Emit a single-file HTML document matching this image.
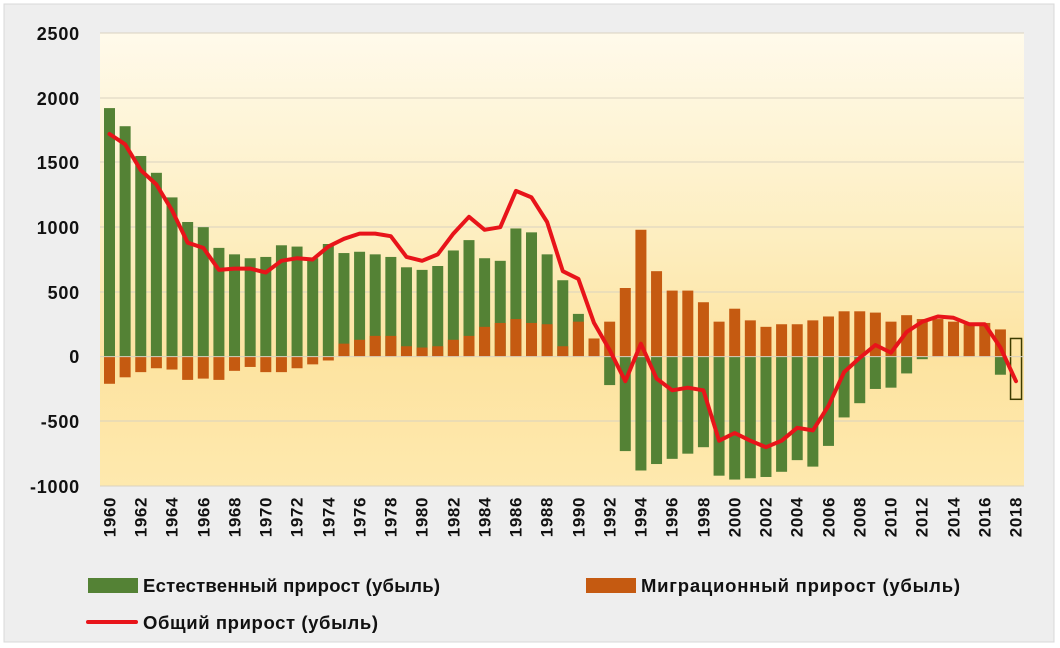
<!DOCTYPE html>
<html><head><meta charset="utf-8"><style>
body{margin:0;background:#fff;}
svg{display:block;font-family:"Liberation Sans",sans-serif;}
</style></head><body>
<svg id="c" width="1060" height="648" viewBox="0 0 1060 648" xmlns="http://www.w3.org/2000/svg">
<defs>
<linearGradient id="bg" x1="0" y1="0" x2="0" y2="1">
<stop offset="0" stop-color="#fffaeb"/>
<stop offset="0.45" stop-color="#fdeec0"/>
<stop offset="0.72" stop-color="#fde3a0"/>
<stop offset="1" stop-color="#fee9ae"/>
</linearGradient>
</defs>
<rect x="0" y="0" width="1060" height="648" fill="#fff"/>
<rect x="4" y="4" width="1050" height="638" fill="#eeeeee" stroke="#d8d8d8"/>
<rect x="100" y="33" width="924" height="453" fill="url(#bg)"/>
<g stroke="#d9d2c0" stroke-width="1">
<line x1="100" x2="1024" y1="33" y2="33"/><line x1="100" x2="1024" y1="98" y2="98"/>
<line x1="100" x2="1024" y1="162" y2="162"/><line x1="100" x2="1024" y1="227" y2="227"/>
<line x1="100" x2="1024" y1="292" y2="292"/><line x1="100" x2="1024" y1="421" y2="421"/>
<line x1="100" x2="1024" y1="486" y2="486"/>
</g>
<g id="bars"></g>
<line x1="100" x2="1024" y1="356.6" y2="356.6" stroke="#d9d2c0"/>
<polyline id="tot" fill="none" stroke="#e8141a" stroke-width="4" stroke-linejoin="round" stroke-linecap="round"/>
<g font-size="18" font-weight="bold" fill="#111" text-anchor="end" letter-spacing="0.8">
<text x="80" y="40">2500</text><text x="80" y="105">2000</text><text x="80" y="169">1500</text>
<text x="80" y="234">1000</text><text x="80" y="299">500</text><text x="80" y="363">0</text>
<text x="80" y="428">-500</text><text x="80" y="493">-1000</text>
</g>
<g font-size="17" font-weight="bold" fill="#111" text-anchor="end" letter-spacing="0.6">
<text transform="translate(115.5,497) rotate(-90)">1960</text>
<text transform="translate(146.5,497) rotate(-90)">1962</text>
<text transform="translate(177.5,497) rotate(-90)">1964</text>
<text transform="translate(209.5,497) rotate(-90)">1966</text>
<text transform="translate(240.5,497) rotate(-90)">1968</text>
<text transform="translate(271.5,497) rotate(-90)">1970</text>
<text transform="translate(302.5,497) rotate(-90)">1972</text>
<text transform="translate(334.5,497) rotate(-90)">1974</text>
<text transform="translate(365.5,497) rotate(-90)">1976</text>
<text transform="translate(396.5,497) rotate(-90)">1978</text>
<text transform="translate(427.5,497) rotate(-90)">1980</text>
<text transform="translate(459.5,497) rotate(-90)">1982</text>
<text transform="translate(490.5,497) rotate(-90)">1984</text>
<text transform="translate(521.5,497) rotate(-90)">1986</text>
<text transform="translate(552.5,497) rotate(-90)">1988</text>
<text transform="translate(584.5,497) rotate(-90)">1990</text>
<text transform="translate(615.5,497) rotate(-90)">1992</text>
<text transform="translate(646.5,497) rotate(-90)">1994</text>
<text transform="translate(677.5,497) rotate(-90)">1996</text>
<text transform="translate(709.5,497) rotate(-90)">1998</text>
<text transform="translate(740.5,497) rotate(-90)">2000</text>
<text transform="translate(771.5,497) rotate(-90)">2002</text>
<text transform="translate(802.5,497) rotate(-90)">2004</text>
<text transform="translate(834.5,497) rotate(-90)">2006</text>
<text transform="translate(865.5,497) rotate(-90)">2008</text>
<text transform="translate(896.5,497) rotate(-90)">2010</text>
<text transform="translate(927.5,497) rotate(-90)">2012</text>
<text transform="translate(959.5,497) rotate(-90)">2014</text>
<text transform="translate(990.5,497) rotate(-90)">2016</text>
<text transform="translate(1021.5,497) rotate(-90)">2018</text>
</g>
<g font-size="18.5" font-weight="bold" fill="#111">
<rect x="88" y="578" width="50" height="15" fill="#548235"/>
<text x="143" y="592" textLength="297" lengthAdjust="spacing">Естественный прирост (убыль)</text>
<rect x="586" y="578" width="50" height="15" fill="#c55a11"/>
<text x="641" y="592" textLength="319" lengthAdjust="spacing">Миграционный прирост (убыль)</text>
<line x1="88" x2="136" y1="622" y2="622" stroke="#e8141a" stroke-width="4" stroke-linecap="round"/>
<text x="143" y="629" textLength="235" lengthAdjust="spacing">Общий прирост (убыль)</text>
</g>
</svg>
<script>
var nat=[1920,1780,1550,1420,1230,1040,1000,840,790,760,770,860,850,760,870,800,810,790,770,690,670,700,820,900,760,740,990,960,790,590,330,100,-220,-730,-880,-830,-790,-750,-700,-920,-950,-940,-930,-890,-800,-850,-690,-470,-360,-250,-240,-130,-20,0,30,30,0,-140,-220];
var mig=[-210,-160,-120,-90,-100,-180,-170,-180,-110,-80,-120,-120,-90,-60,-30,100,130,160,160,80,70,80,130,160,230,260,290,260,250,80,270,140,270,530,980,660,510,510,420,270,370,280,230,250,250,280,310,350,350,340,270,320,290,290,270,250,260,210,120];
var tot=[1720,1640,1440,1330,1130,880,840,670,680,680,650,740,760,750,850,910,950,950,930,770,740,790,950,1080,980,1000,1280,1230,1040,660,600,260,50,-190,100,-170,-260,-240,-260,-650,-590,-650,-700,-650,-550,-570,-380,-120,-10,90,30,190,270,310,300,250,250,70,-190];
var NS="http://www.w3.org/2000/svg",g=document.getElementById("bars");
function Y(v){return 356.6-v*0.12943;}
function X(i){return 109.5+i*15.63;}
function r(x,y1,y2,f,s){var e=document.createElementNS(NS,"rect");e.setAttribute("x",x-5.5);e.setAttribute("width",11);e.setAttribute("y",Math.min(y1,y2));e.setAttribute("height",Math.abs(y2-y1));e.setAttribute("fill",f);if(s){e.setAttribute("stroke",s);e.setAttribute("stroke-width",1.5);}g.appendChild(e);}
var pts=[];
for(var i=0;i<59;i++){
 if(i<58){r(X(i),Y(0),Y(nat[i]),"#548235");r(X(i),Y(0),Y(mig[i]),"#c55a11");}
 else{r(X(i),Y(140),Y(-330),"none","#3b3b00");}
 pts.push(X(i).toFixed(1)+","+Y(tot[i]).toFixed(1));
}
document.getElementById("tot").setAttribute("points",pts.join(" "));
</script>
</body></html>
